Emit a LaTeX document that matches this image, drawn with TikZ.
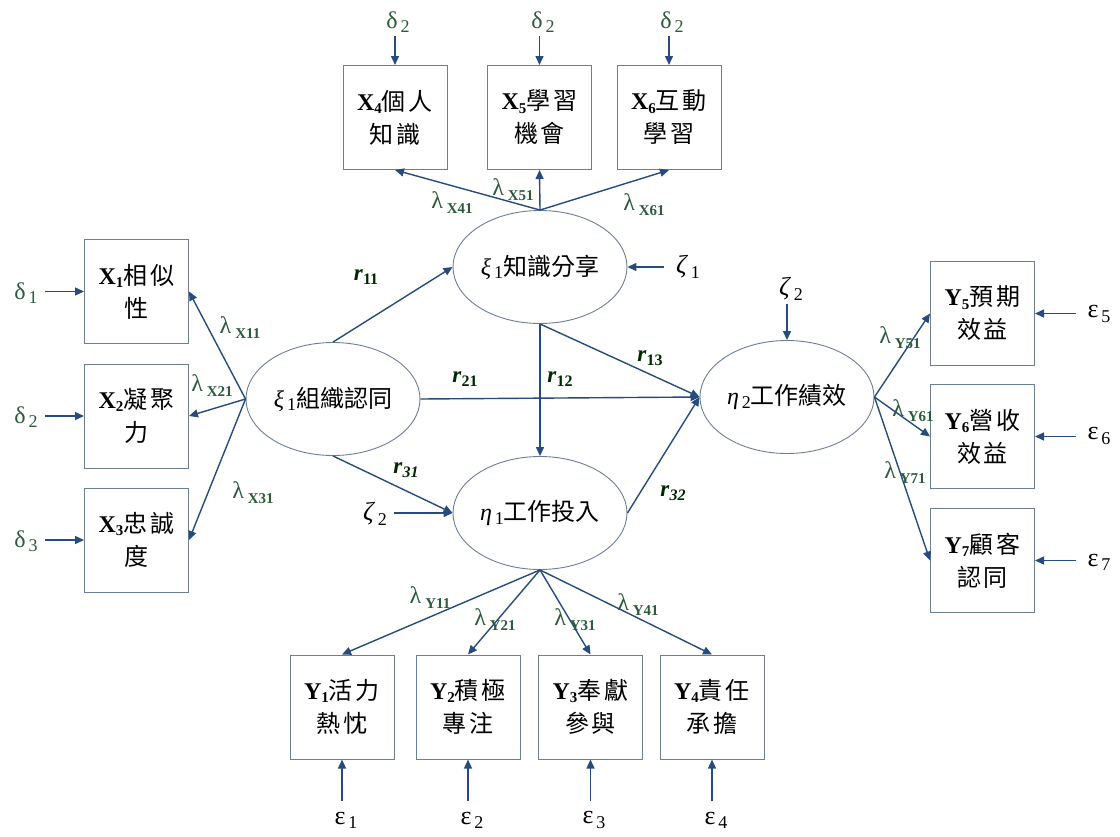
\documentclass[tikz,border=0pt]{standalone}
\usepackage{fontspec}
\setmainfont{Liberation Serif}
\newfontfamily\cjk{Noto Sans CJK TC}
\usetikzlibrary{shapes.geometric,arrows.meta}
\definecolor{arr}{RGB}{40,75,125}
\definecolor{bx}{RGB}{110,125,150}
\definecolor{lamc}{RGB}{45,90,60}
\newcommand\lsub[1]{\raisebox{-0.45ex}{\fontsize{15}{15}\selectfont #1}}
\newcommand\gsub[1]{\kern3pt\raisebox{-0.35ex}{\fontsize{18}{18}\selectfont #1}}
\newcommand\esub[1]{\raisebox{-0.35ex}{\fontsize{18}{18}\selectfont #1}}
\newcommand\rsub[1]{\raisebox{-0.4ex}{\fontsize{16}{16}\selectfont\bfseries #1}}
\newcommand\bsub[1]{\raisebox{-0.3ex}{\fontsize{15}{15}\selectfont\bfseries #1}}
\newcommand\cc[2]{{\cjk #1\kern3pt #2}}
\tikzset{
  box/.style={draw=bx, line width=1pt, minimum width=104pt, minimum height=104pt, align=center, font=\fontsize{24}{33}\selectfont, inner sep=0pt},
  lat/.style={draw=bx, line width=0.9pt, ellipse, minimum width=174pt, minimum height=113pt, font=\fontsize{24}{26}\selectfont, inner sep=0pt},
  ar/.style={-{Triangle[length=9pt,width=8pt]}, draw=arr, line width=1.4pt},
  lam/.style={text=lamc, font=\fontsize{24}{24}\selectfont, inner sep=0pt},
  err/.style={font=\fontsize{26}{26}\selectfont, inner sep=0pt},
  rl/.style={font=\fontsize{23}{23}\selectfont, inner sep=0pt, text=black!85!green}
}
\begin{document}
\begin{tikzpicture}[x=1pt,y=-1pt]
\useasboundingbox (0,0) rectangle (1120,836);
\fill[white] (0,0) rectangle (1120,836);
% latent variables
\node[lat] (KS) at (540,267) {\textit{ξ}\gsub{1}{\cjk 知識分享}};
\node[lat] (OI) at (333,399) {\textit{ξ}\gsub{1}{\cjk 組織認同}};
\node[lat] (E1) at (540,513) {\textit{η}\gsub{1}{\cjk 工作投入}};
\node[lat] (E2) at (787,397) {\textit{η}\gsub{2}{\cjk 工作績效}};
% top boxes
\node[box] (X4) at (395,117.5) {{\bfseries X}\bsub{4}\cc{個}{人}\\\cc{知}{識}};
\node[box] (X5) at (539.5,117.5) {{\bfseries X}\bsub{5}\cc{學}{習}\\\cc{機}{會}};
\node[box] (X6) at (669,117.5) {{\bfseries X}\bsub{6}\cc{互}{動}\\\cc{學}{習}};
% left boxes
\node[box] (X1) at (136.5,291.5) {{\bfseries X}\bsub{1}\cc{相}{似}\\{\cjk 性}};
\node[box] (X2) at (136.5,416) {{\bfseries X}\bsub{2}\cc{凝}{聚}\\{\cjk 力}};
\node[box] (X3) at (136.5,540) {{\bfseries X}\bsub{3}\cc{忠}{誠}\\{\cjk 度}};
% right boxes
\node[box] (Y5) at (982.5,313.5) {{\bfseries Y}\bsub{5}\cc{預}{期}\\\cc{效}{益}};
\node[box] (Y6) at (982.5,436.5) {{\bfseries Y}\bsub{6}\cc{營}{收}\\\cc{效}{益}};
\node[box] (Y7) at (982.5,560.5) {{\bfseries Y}\bsub{7}\cc{顧}{客}\\\cc{認}{同}};
% bottom boxes
\node[box] (Y1) at (342,707) {{\bfseries Y}\bsub{1}\cc{活}{力}\\\cc{熱}{忱}};
\node[box] (Y2) at (468,707) {{\bfseries Y}\bsub{2}\cc{積}{極}\\\cc{專}{注}};
\node[box] (Y3) at (590.5,707) {{\bfseries Y}\bsub{3}\cc{奉}{獻}\\\cc{參}{與}};
\node[box] (Y4) at (712,707) {{\bfseries Y}\bsub{4}\cc{責}{任}\\\cc{承}{擔}};
% error terms
\node[lam] (d4) at (398,22) {δ\gsub{2}};
\node[lam] (d5) at (543,22) {δ\gsub{2}};
\node[lam] (d6) at (672,22) {δ\gsub{2}};
\coordinate (d4s) at (395,36); \coordinate (d5s) at (539.5,36); \coordinate (d6s) at (669,36);
\draw[ar] (d4s) -- (X4.north);
\draw[ar] (d5s) -- (X5.north);
\draw[ar] (d6s) -- (X6.north);
\node[lam] (d1) at (26,293) {δ\gsub{1}};
\node[lam] (d2) at (26,417) {δ\gsub{2}};
\node[lam] (d3) at (26,541) {δ\gsub{3}};
\draw[ar] (45,291.5) -- (X1.west);
\draw[ar] (45,416) -- (X2.west);
\draw[ar] (45,540) -- (X3.west);
\node[err] (z1) at (688,267) {\textit{ζ}\gsub{1}};
\draw[ar] (664,267) -- (KS.east);
\node[err] (z2a) at (375,514) {\textit{ζ}\gsub{2}};
\draw[ar] (394,513) -- (E1.west);
\node[err] (z2b) at (791,289) {\textit{ζ}\gsub{2}};
\draw[ar] (787,304) -- (E2.north);
\node[err] (e5) at (1099,314) {ε\gsub{5}};
\node[err] (e6) at (1099,436) {ε\gsub{6}};
\node[err] (e7) at (1099,562) {ε\gsub{7}};
\draw[ar] (1076,313.5) -- (Y5.east);
\draw[ar] (1076,436.5) -- (Y6.east);
\draw[ar] (1076,560.5) -- (Y7.east);
\node[err] (e1) at (346,820) {ε\gsub{1}};
\node[err] (e2) at (472,820) {ε\gsub{2}};
\node[err] (e3) at (594,820) {ε\gsub{3}};
\node[err] (e4) at (716,820) {ε\gsub{4}};
\draw[ar] (342,801) -- (Y1.south);
\draw[ar] (468,801) -- (Y2.south);
\draw[ar] (590.5,801) -- (Y3.south);
\draw[ar] (712,801) -- (Y4.south);
% loadings
\draw[ar] (KS.north) -- (X4.south);
\draw[ar] (KS.north) -- (X5.south);
\draw[ar] (KS.north) -- (X6.south);
\draw[ar] (OI.west) -- (X1.east);
\draw[ar] (OI.west) -- (X2.east);
\draw[ar] (OI.west) -- (X3.east);
\draw[ar] (E2.east) -- (Y5.west);
\draw[ar] (E2.east) -- (Y6.west);
\draw[ar] (E2.east) -- (Y7.west);
\draw[ar] (E1.south) -- (Y1.north);
\draw[ar] (E1.south) -- (Y2.north);
\draw[ar] (E1.south) -- (Y3.north);
\draw[ar] (E1.south) -- (Y4.north);
% structural paths
\draw[ar] (OI.north) -- (KS.west);
\draw[ar] (OI.south) -- (E1.west);
\draw[ar] (OI.east) -- (E2.west);
\draw[ar] (KS.south) -- (E1.north);
\draw[ar] (KS.south) -- (E2.west);
\draw[ar] (E1.east) -- (E2.west);
% lambda labels
\node[lam] at (452,203) {λ\,\lsub{\bfseries X41}};
\node[lam] at (513,190) {λ\,\lsub{\bfseries X51}};
\node[lam] at (644,205) {λ\,\lsub{\bfseries X61}};
\node[lam] at (240,328) {λ\,\lsub{\bfseries X11}};
\node[lam] at (212,386) {λ\,\lsub{\bfseries X21}};
\node[lam] at (253,493) {λ\,\lsub{\bfseries X31}};
\node[lam] at (900,338) {λ\,\lsub{\bfseries Y51}};
\node[lam] at (913,411) {λ\,\lsub{\bfseries Y61}};
\node[lam] at (905,473) {λ\,\lsub{\bfseries Y71}};
\node[lam] at (430,598) {λ\,\lsub{\bfseries Y11}};
\node[lam] at (495,620) {λ\,\lsub{\bfseries Y21}};
\node[lam] at (575,620) {λ\,\lsub{\bfseries Y31}};
\node[lam] at (638,605) {λ\,\lsub{\bfseries Y41}};
% path labels
\node[rl] at (366,277) {\textbf{\textit{r}}\rsub{11}};
\node[rl] at (465,379) {\textbf{\textit{r}}\rsub{21}};
\node[rl] at (560,379) {\textbf{\textit{r}}\rsub{12}};
\node[rl] at (650,358) {\textbf{\textit{r}}\rsub{13}};
\node[rl] at (406,470) {\textbf{\textit{r}}\rsub{\itshape 31}};
\node[rl] at (673,493) {\textbf{\textit{r}}\rsub{\itshape 32}};
\end{tikzpicture}
\end{document}
